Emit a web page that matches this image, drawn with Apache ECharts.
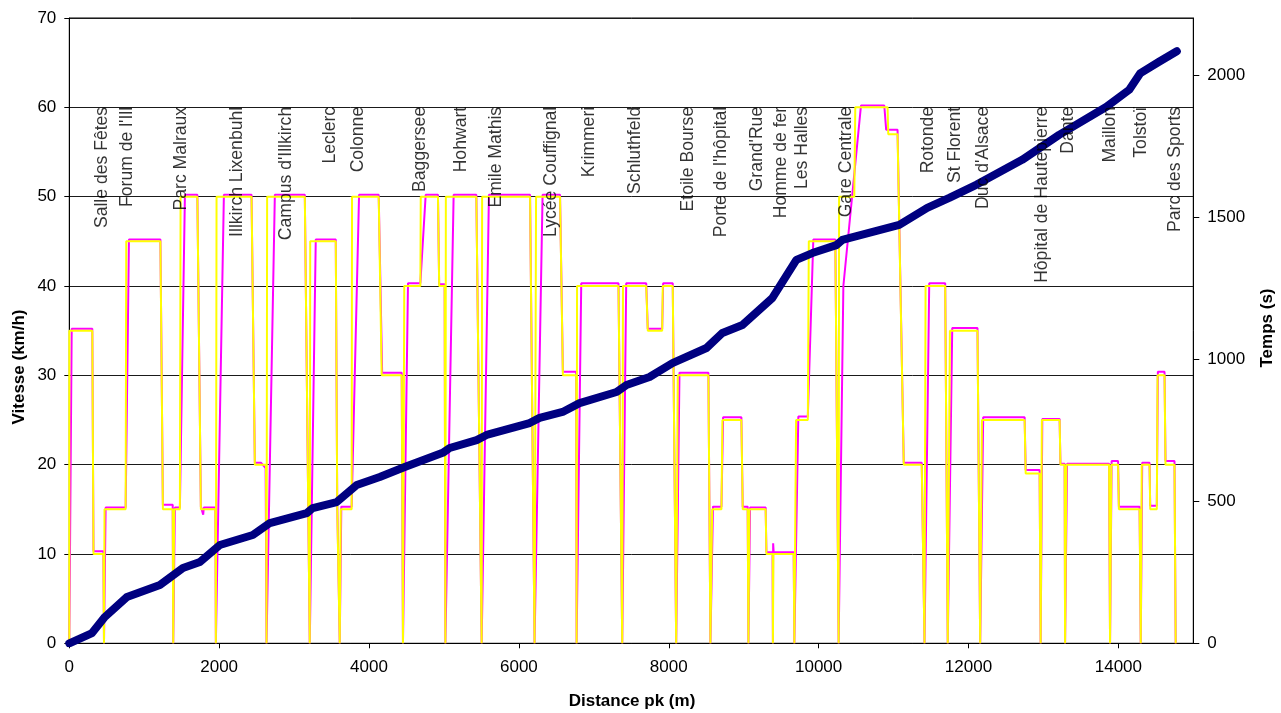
<!DOCTYPE html>
<html><head><meta charset="utf-8">
<script src="https://cdn.jsdelivr.net/npm/echarts/dist/echarts.min.js"></script>
<style>html,body{margin:0;padding:0;background:#fff}#c{width:1281px;height:713px}</style>
</head><body><div id="c"></div>
<script>
// Station names and label positions (m)
const stationNames = ["Salle des Fêtes","Forum de l'Ill","Parc Malraux","Illkirch Lixenbuhl","Campus d'Illkirch","Leclerc","Colonne","Baggersee","Hohwart","Emile Mathis","Lycée Couffignal","Krimmeri","Schluthfeld","Etoile Bourse","Porte de l'hôpital","Grand'Rue","Homme de fer","Les Halles","Gare Centrale","Rotonde","St Florent","Duc d'Alsace","Hôpital de Hautepierre","Dante","Maillon","Tolstoï","Parc des Sports"];
const stationPos = [451,783,1503,2249,2903,3489,3863,4689,5236,5703,6436,6943,7556,8263,8703,9183,9503,9783,10369,11463,11823,12196,12996,13343,13903,14316,14769];

// Speed profile 1 (yellow): [distance m, speed km/h]
const speedYellow = [[0,0],[0,35],[307,35],[323,10],[455,10],[463,0],[470,15],[752,15],[760,45],[1216,45],[1249,15],[1380,15],[1387,0],[1400,15],[1476,15],[1485,50],[1709,50],[1756,15],[1950,15],[1956,0],[1965,50],[2432,50],[2476,20],[2625,20],[2632,0],[2640,50],[3143,50],[3209,0],[3215,45],[3556,45],[3576,15],[3600,15],[3609,0],[3623,15],[3768,15],[3773,50],[4129,50],[4169,30],[4436,30],[4453,0],[4470,40],[4685,40],[4690,50],[4920,50],[4936,40],[5009,40],[5019,0],[5025,50],[5432,50],[5503,0],[5509,50],[6149,50],[6209,0],[6229,50],[6549,50],[6587,30],[6765,30],[6770,0],[6776,40],[7329,40],[7379,0],[7389,40],[7699,40],[7720,35],[7912,35],[7920,40],[8053,40],[8099,0],[8120,30],[8529,30],[8556,0],[8579,15],[8703,15],[8716,25],[8969,25],[8987,15],[9053,15],[9063,0],[9076,15],[9293,15],[9303,10],[9387,10],[9390,0],[9396,10],[9667,10],[9676,0],[9699,25],[9856,25],[9869,45],[10223,45],[10267,0],[10273,50],[10476,50],[10489,60],[10920,60],[10929,57],[11053,57],[11136,20],[11376,20],[11413,0],[11427,40],[11689,40],[11723,0],[11752,35],[12120,35],[12156,0],[12179,25],[12749,25],[12763,19],[12949,19],[12963,0],[12979,25],[13216,25],[13227,20],[13283,20],[13289,0],[13307,20],[13876,20],[13889,0],[13907,20],[13996,20],[14007,15],[14283,15],[14299,0],[14312,20],[14416,20],[14425,15],[14513,15],[14523,30],[14616,30],[14629,20],[14749,20],[14765,0]];

// Speed profile 2 (magenta): [distance m, speed km/h]
const speedMagenta = [[0,0],[32,35.2],[307,35.2],[323,10.3],[455,10.3],[463,0],[485,15.2],[752,15.2],[796,45.2],[1216,45.2],[1249,15.5],[1380,15.5],[1387,0],[1409,15.2],[1476,15.2],[1543,50.2],[1709,50.2],[1756,15.3],[1775,15.3],[1787,14.4],[1795,15.2],[1950,15.2],[1956,0],[2063,50.2],[2432,50.2],[2476,20.2],[2560,20.2],[2620,19.6],[2632,0],[2743,50.2],[3143,50.2],[3209,0],[3289,45.2],[3556,45.2],[3576,15.5],[3600,15.5],[3609,0],[3630,15.3],[3768,15.3],[3867,50.2],[4129,50.2],[4175,30.3],[4436,30.3],[4453,0],[4520,40.3],[4685,40.3],[4756,50.2],[4920,50.2],[4936,40.2],[5009,40.2],[5019,0],[5129,50.2],[5432,50.2],[5503,0],[5600,50.2],[6149,50.2],[6209,0],[6316,50.2],[6549,50.2],[6587,30.4],[6765,30.4],[6770,0],[6832,40.3],[7329,40.3],[7379,0],[7432,40.3],[7699,40.3],[7720,35.2],[7912,35.2],[7925,40.3],[8053,40.3],[8099,0],[8143,30.3],[8529,30.3],[8556,0],[8590,15.3],[8703,15.3],[8725,25.3],[8969,25.3],[8987,15.3],[9053,15.3],[9063,0],[9085,15.2],[9293,15.2],[9303,10.2],[9385,10.2],[9390,0],[9393,11.2],[9400,10.2],[9667,10.2],[9676,0],[9729,25.4],[9856,25.4],[9929,45.2],[10223,45.2],[10267,0],[10330,40],[10565,60.2],[10876,60.2],[10901,57.5],[11053,57.5],[11136,20.2],[11376,20.2],[11413,0],[11476,40.3],[11689,40.3],[11723,0],[11783,35.3],[12120,35.3],[12156,0],[12196,25.3],[12749,25.3],[12763,19.4],[12949,19.4],[12963,0],[12985,25.1],[13216,25.1],[13227,20.1],[13283,20.1],[13289,0],[13315,20.1],[13876,20.1],[13889,0],[13910,20.4],[13996,20.4],[14007,15.3],[14283,15.3],[14299,0],[14318,20.2],[14416,20.2],[14425,15.4],[14513,15.4],[14527,30.4],[14616,30.4],[14629,20.4],[14749,20.4],[14765,0]];

// Travel time: [distance m, time s]
const travelTime = [[0,0],[303,36],[476,93],[769,163],[1209,205],[1516,265],[1743,286],[2009,346],[2449,381],[2676,423],[3169,458],[3249,476],[3569,497],[3836,557],[4143,585],[4476,620],[4983,670],[5076,687],[5436,715],[5569,733],[6143,775],[6276,793],[6583,814],[6809,845],[7303,884],[7436,909],[7743,937],[8049,986],[8503,1039],[8716,1092],[8983,1120],[9383,1215],[9703,1349],[9916,1373],[10236,1401],[10316,1419],[11076,1472],[11449,1532],[11743,1567],[12103,1613],[12716,1701],[13209,1789],[13836,1887],[14143,1947],[14290,2005],[14543,2046],[14780,2083]];

const FONT = "'Liberation Sans', Arial, sans-serif";
const plain = v => String(v);
const chart = echarts.init(document.getElementById('c'), null, {renderer:'canvas'});
chart.setOption({
  animation:false,
  backgroundColor:'#fff',
  grid:{left:69.3, right:87.7, top:18, bottom:69.7, show:true, borderColor:'#000', borderWidth:1, backgroundColor:'transparent'},
  xAxis:{type:'value', min:0, max:15000, interval:2000,
    axisLine:{lineStyle:{color:'#000', width:1}}, axisTick:{show:true, length:5, lineStyle:{color:'#000'}},
    axisLabel:{color:'#000', fontSize:17, fontFamily:FONT, margin:16, showMaxLabel:false, formatter:plain},
    splitLine:{show:false}},
  yAxis:[
    {type:'value', min:0, max:70, interval:10, position:'left',
     axisLine:{show:true, lineStyle:{color:'#000'}}, axisTick:{show:true, length:5, lineStyle:{color:'#000'}},
     axisLabel:{color:'#000', fontSize:17, fontFamily:FONT, margin:13, formatter:plain},
     splitLine:{show:true, lineStyle:{color:'#1a1a1a', width:1}}},
    {type:'value', min:0, max:2200, interval:500, position:'right',
     axisLine:{show:true, lineStyle:{color:'#000'}}, axisTick:{show:true, length:6, lineStyle:{color:'#000'}},
     axisLabel:{color:'#000', fontSize:17, fontFamily:FONT, margin:14, showMaxLabel:false, formatter:plain},
     splitLine:{show:false}}
  ],
  graphic:[
    {type:'text', x:632, y:701, style:{text:'Distance pk (m)', font:"bold 17px "+FONT, fill:'#000', textAlign:'center', textVerticalAlign:'middle', align:'center', verticalAlign:'middle'}},
    {type:'text', x:19, y:367, rotation:Math.PI/2, style:{text:'Vitesse (km/h)', font:"bold 17px "+FONT, fill:'#000', textAlign:'center', textVerticalAlign:'middle', align:'center', verticalAlign:'middle'}},
    {type:'text', x:1267, y:328, rotation:Math.PI/2, style:{text:'Temps (s)', font:"bold 17px "+FONT, fill:'#000', textAlign:'center', textVerticalAlign:'middle', align:'center', verticalAlign:'middle'}}
  ],
  series:[
    {name:'Vitesse 2', type:'line', yAxisIndex:0, data:speedMagenta, showSymbol:false, symbol:'none', z:2,
     lineStyle:{color:'#FF00FF', width:2}},
    {name:'Vitesse 1', type:'line', yAxisIndex:0, data:speedYellow, showSymbol:false, symbol:'none', z:3,
     lineStyle:{color:'#FFFF00', width:2}},
    {name:'Temps', type:'line', yAxisIndex:1, data:travelTime, showSymbol:false, symbol:'none', z:4,
     lineStyle:{color:'#000080', width:8, cap:'round', join:'round'}},
    {name:'Stations', type:'scatter', yAxisIndex:0, symbolSize:1, itemStyle:{color:'rgba(0,0,0,0)'}, silent:true, z:5,
     data:stationPos.map((p,i)=>({value:[p,60], name:stationNames[i]})),
     label:{show:true, formatter:'{b}', position:[0,0], rotate:90, align:'right', verticalAlign:'middle',
       color:'#000', fontSize:17.6, fontFamily:FONT}}
  ]
});
</script></body></html>
